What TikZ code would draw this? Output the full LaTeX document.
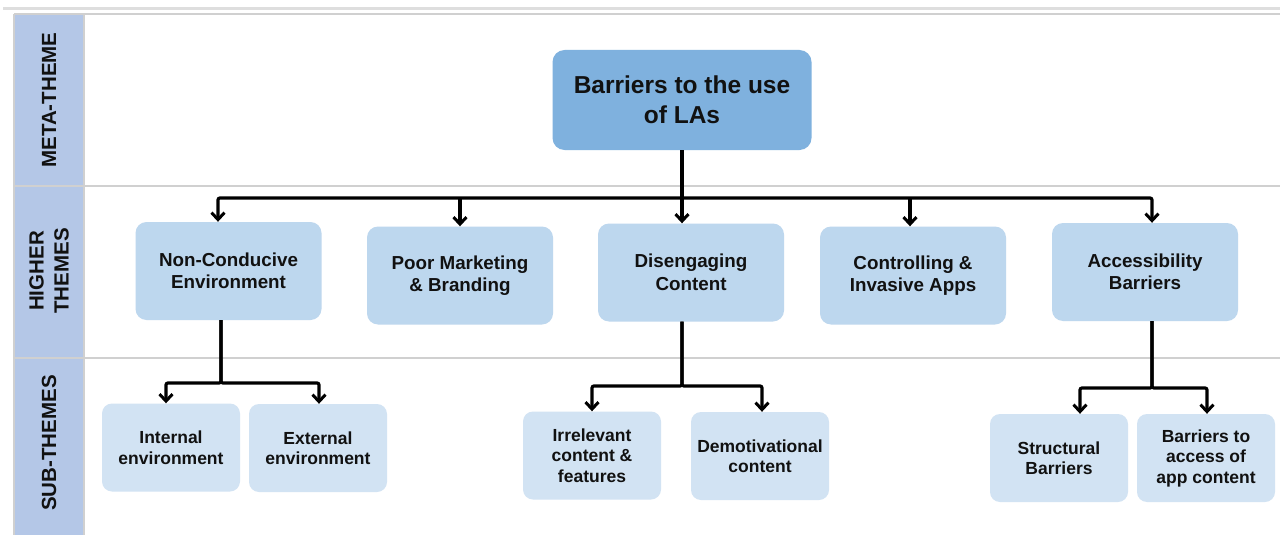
\documentclass[tikz,border=0pt]{standalone}
\usepackage{fontspec}
\setmainfont{Liberation Sans}
\usetikzlibrary{arrows.meta}
\definecolor{bandblue}{HTML}{B4C7E7}
\definecolor{metablue}{HTML}{7FB1DE}
\definecolor{highblue}{HTML}{BDD7EE}
\definecolor{subblue}{HTML}{D2E3F3}
\definecolor{gridgray}{HTML}{D0D0D0}
\definecolor{txt}{HTML}{111111}
\tikzset{
  metabox/.style={fill=metablue, draw=none, rounded corners=12pt, minimum width=259pt, minimum height=100pt, align=center, text=txt, font=\bfseries\fontsize{24.5}{30}\selectfont},
  highbox/.style={fill=highblue, draw=none, rounded corners=11pt, minimum width=186pt, minimum height=98pt, align=center, text=txt, font=\bfseries\fontsize{18.8}{22.5}\selectfont},
  subbox/.style={fill=subblue, draw=none, rounded corners=10pt, minimum width=138pt, minimum height=88pt, align=center, text=txt, font=\bfseries\fontsize{17.5}{20.5}\selectfont},
  bandlabel/.style={rotate=90, align=center, text=txt, font=\bfseries\fontsize{20.5}{25}\selectfont},
  conn/.style={line width=3.2pt, draw=black, rounded corners=2pt, -{Straight Barb[length=7pt,width=13pt,line width=3pt]}},
  grid/.style={draw=gridgray, line width=1.2pt}
}
\begin{document}
\begin{tikzpicture}[x=1pt,y=-1pt]
\useasboundingbox (0,0) rectangle (1280,535);
\fill[white] (0,0) rectangle (1280,535);
% top gray strip
\fill[gridgray!70] (3,7) rectangle (1280,10);
% left band
\fill[bandblue] (14,14) rectangle (84,535);
\draw[grid] (14,14) -- (14,535);
\draw[grid] (84,14) -- (84,535);
\draw[grid] (14,14) -- (1280,14);
\draw[grid] (14,186) -- (1280,186);
\draw[grid] (14,358) -- (1280,358);
\node[bandlabel] (lm) at (49,100) {META-THEME};
\node[bandlabel] (lh) at (49,271) {HIGHER\\THEMES};
\node[bandlabel] (ls) at (49,443) {SUB-THEMES};
% meta
\node[metabox] (meta) at (682,100) {Barriers to the use\\of LAs};
% higher
\node[highbox] (h1) at (228.5,271) {Non-Conducive\\Environment};
\node[highbox] (h2) at (460,275.5) {Poor Marketing\\\& Branding};
\node[highbox] (h3) at (691,272.5) {Disengaging\\Content};
\node[highbox] (h4) at (913,275.5) {Controlling \&\\Invasive Apps};
\node[highbox] (h5) at (1145,272) {Accessibility\\Barriers};
% sub
\node[subbox] (s1) at (171,447.5) {Internal\\environment};
\node[subbox] (s2) at (318,448) {External\\environment};
\node[subbox] (s3) at (592,455.5) {Irrelevant\\content \&\\features};
\node[subbox] (s4) at (760,456) {Demotivational\\content};
\node[subbox] (s5) at (1059,458) {Structural\\Barriers};
\node[subbox] (s6) at (1206,458) {Barriers to\\access of\\app content};
% top-level connectors
\coordinate (bus) at (682,198);
\coordinate (b1) at (218,198);
\coordinate (b2) at (460,198);
\coordinate (b4) at (910,198);
\coordinate (b5) at (1152,198);
\draw[conn] (meta.south) -- (bus) -| (b1 |- h1.north);
\draw[conn] (meta.south) -- (bus) -| (b5 |- h5.north);
\draw[conn] (meta.south) -- (bus |- h3.north);
\draw[conn] (b2) -- (b2 |- h2.north);
\draw[conn] (b4) -- (b4 |- h4.north);
% sub connectors 1
\coordinate (n1) at (221,383);
\draw[conn] (n1 |- h1.south) -- (n1) -| (166,0 |- s1.north);
\draw[conn] (n1 |- h1.south) -- (n1) -| (319,0 |- s2.north);
% sub connectors 2
\coordinate (n3) at (682,386);
\draw[conn] (n3 |- h3.south) -- (n3) -| (592,0 |- s3.north);
\draw[conn] (n3 |- h3.south) -- (n3) -| (762,0 |- s4.north);
% sub connectors 3
\coordinate (n5) at (1152,388);
\draw[conn] (n5 |- h5.south) -- (n5) -| (1080,0 |- s5.north);
\draw[conn] (n5 |- h5.south) -- (n5) -| (1207,0 |- s6.north);
\end{tikzpicture}
\end{document}
